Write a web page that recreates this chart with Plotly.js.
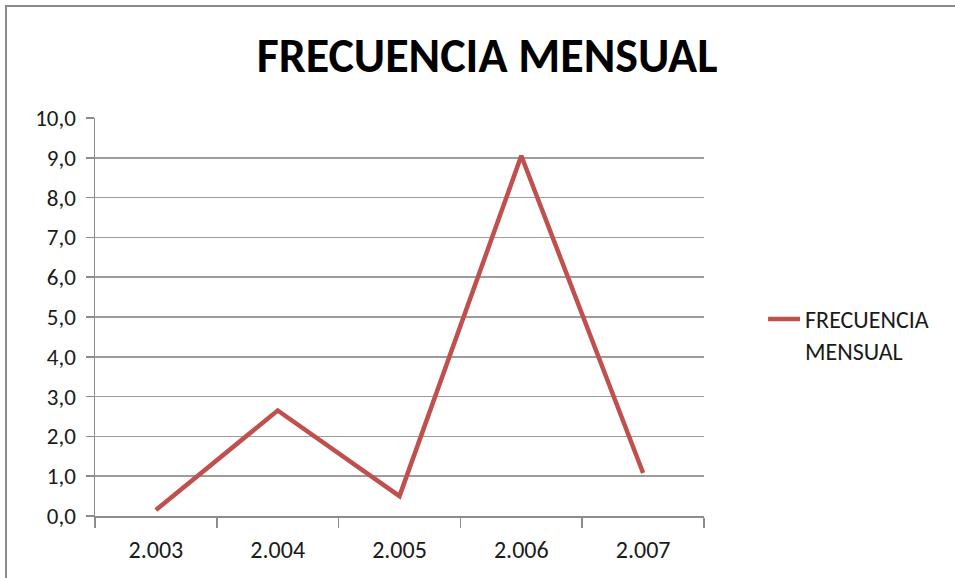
<!DOCTYPE html>
<html>
<head>
<meta charset="utf-8">
<script src="https://cdn.plot.ly/plotly-3.0.1.min.js"></script>
<style>
  html, body { margin: 0; padding: 0; background: #fff; }
  #chart { width: 955px; height: 578px; position: relative; }
  #frame { position: absolute; left: 5px; top: 5px; width: 960px; height: 600px;
           border-left: 2px solid #8a8a8a; border-top: 2px solid #8a8a8a; pointer-events: none; }
</style>
</head>
<body>
<div id="chart"></div>
<div id="frame"></div>
<script>
const categories = ["2.003", "2.004", "2.005", "2.006", "2.007"];
const frecuencia = [0.15, 2.65, 0.5, 9.05, 1.08];
const seriesName = "FRECUENCIA<br>MENSUAL";
const chartTitle = "FRECUENCIA MENSUAL";

const fontFam = "Carlito, Calibri, Lato, 'Open Sans', sans-serif";

const trace = {
  type: "scatter",
  mode: "lines",
  x: categories,
  y: frecuencia,
  name: seriesName,
  line: { color: "#c0504d", width: 4.5 },
  showlegend: true
};

const layout = {
  width: 955,
  height: 578,
  margin: { l: 95, r: 251, t: 118, b: 62 },
  paper_bgcolor: "#ffffff",
  plot_bgcolor: "#ffffff",
  separators: ",.",
  font: { family: fontFam, color: "#1a1a1a", size: 24 },
  title: {
    text: "<b>" + chartTitle + "</b>",
    font: { family: fontFam, size: 48, color: "#000000" },
    xref: "container", yref: "container",
    x: 0.51, xanchor: "center",
    y: 0.905, yanchor: "middle"
  },
  xaxis: {
    type: "category",
    range: [-0.5, 4.5],
    tickson: "boundaries",
    ticks: "outside",
    ticklen: 10,
    tickwidth: 1.5,
    tickcolor: "#8c8c8c",
    showline: true,
    linecolor: "#8c8c8c",
    linewidth: 1.5,
    showgrid: false,
    zeroline: false,
    ticklabelstandoff: 12,
    tickfont: { family: fontFam, size: 24, color: "#1a1a1a" },
    fixedrange: true
  },
  yaxis: {
    range: [0, 10],
    dtick: 1,
    tick0: 0,
    tickformat: ".1f",
    ticks: "outside",
    ticklen: 8,
    tickwidth: 1.5,
    tickcolor: "#8c8c8c",
    showline: true,
    linecolor: "#8c8c8c",
    linewidth: 1.5,
    showgrid: true,
    gridcolor: "#9c9c9c",
    gridwidth: 1.5,
    zeroline: false,
    ticklabelstandoff: 5,
    tickfont: { family: fontFam, size: 23, color: "#1a1a1a" },
    fixedrange: true
  },
  legend: {
    x: 1.097, xanchor: "left",
    y: 0.455, yanchor: "middle",
    valign: "top",
    font: { family: fontFam, size: 24, color: "#1a1a1a" },
    bgcolor: "rgba(0,0,0,0)",
    itemwidth: 32
  },
  showlegend: true
};

Plotly.newPlot("chart", [trace], layout, { displayModeBar: false, staticPlot: true });
</script>
</body>
</html>
